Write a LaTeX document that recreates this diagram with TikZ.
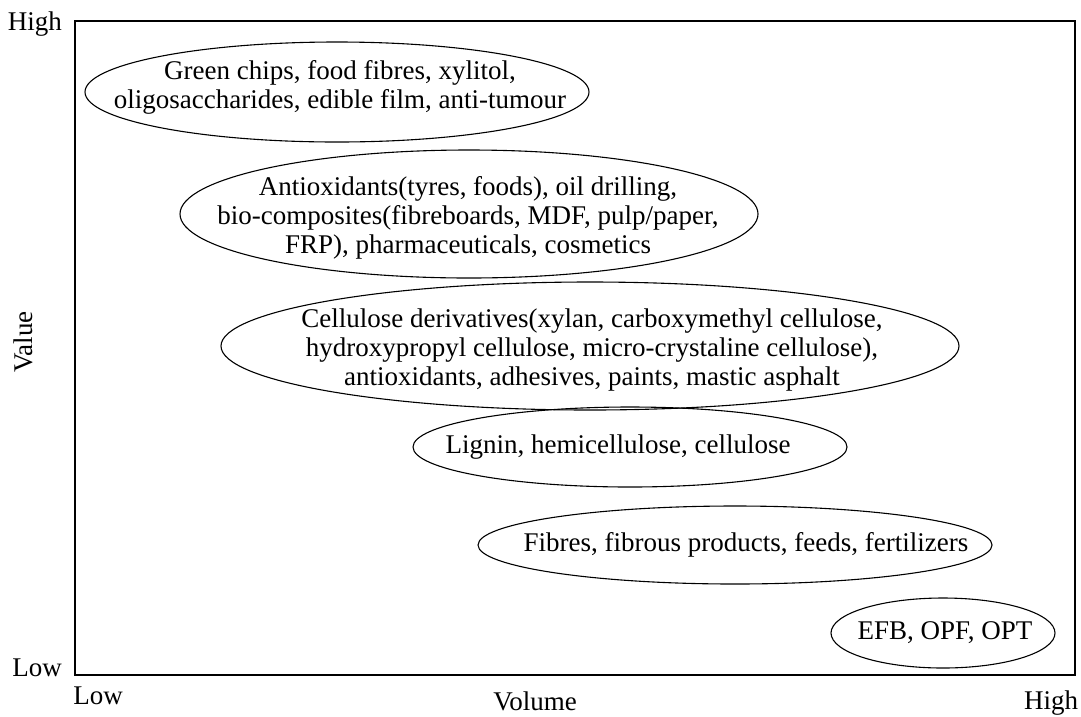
\documentclass[tikz,border=0pt]{standalone}
\usepackage{fontspec}
\setmainfont{Liberation Serif}
\usetikzlibrary{shapes.geometric}
\begin{document}
\begin{tikzpicture}[x=1pt,y=-1pt,
  blob/.style={draw, ellipse, line width=1.1pt, inner sep=0pt},
  txt/.style={align=center, font=\fontsize{27}{29}\selectfont, inner sep=0pt},
  lab/.style={font=\fontsize{27}{29}\selectfont, inner sep=0pt, anchor=base},
  frame/.style={draw, line width=1.6pt, inner sep=0pt}]
\useasboundingbox (0,0) rectangle (1081,716);
% frame
\node[frame, minimum width=1000pt, minimum height=654pt] (frame) at (575,348) {};
% axis labels
\node[lab] (hiY) at (35,30) {High};
\node[lab] (loY) at (37,676) {Low};
\node[lab] (loX) at (98,704) {Low};
\node[lab] (vol) at (535,710) {Volume};
\node[lab] (hiX) at (1051,709) {High};
\node[txt, rotate=90] (val) at (23,342) {Value};
% ellipses
\node[blob, minimum width=504pt, minimum height=100pt] (e1) at (337,92) {};
\node[txt] (t1) at (340,87) {Green chips, food fibres, xylitol,\\oligosaccharides, edible film, anti-tumour};
\node[blob, minimum width=578pt, minimum height=128pt] (e2) at (469,214) {};
\node[txt] (t2) at (468,218) {Antioxidants(tyres, foods), oil drilling,\\bio-composites(fibreboards, MDF, pulp/paper,\\FRP), pharmaceuticals, cosmetics};
\node[blob, minimum width=738pt, minimum height=128pt] (e3) at (590,346) {};
\node[txt] (t3) at (592,350) {Cellulose derivatives(xylan, carboxymethyl cellulose,\\hydroxypropyl cellulose, micro-crystaline cellulose),\\antioxidants, adhesives, paints, mastic asphalt};
\node[blob, minimum width=434pt, minimum height=80pt] (e4) at (630,447) {};
\node[txt] (t4) at (618,447) {Lignin, hemicellulose, cellulose};
\node[blob, minimum width=514pt, minimum height=78pt] (e5) at (735,545) {};
\node[txt] (t5) at (746,545) {Fibres, fibrous products, feeds, fertilizers};
\node[blob, minimum width=224pt, minimum height=70pt] (e6) at (943,633) {};
\node[txt] (t6) at (945,633) {EFB, OPF, OPT};
\end{tikzpicture}
\end{document}
